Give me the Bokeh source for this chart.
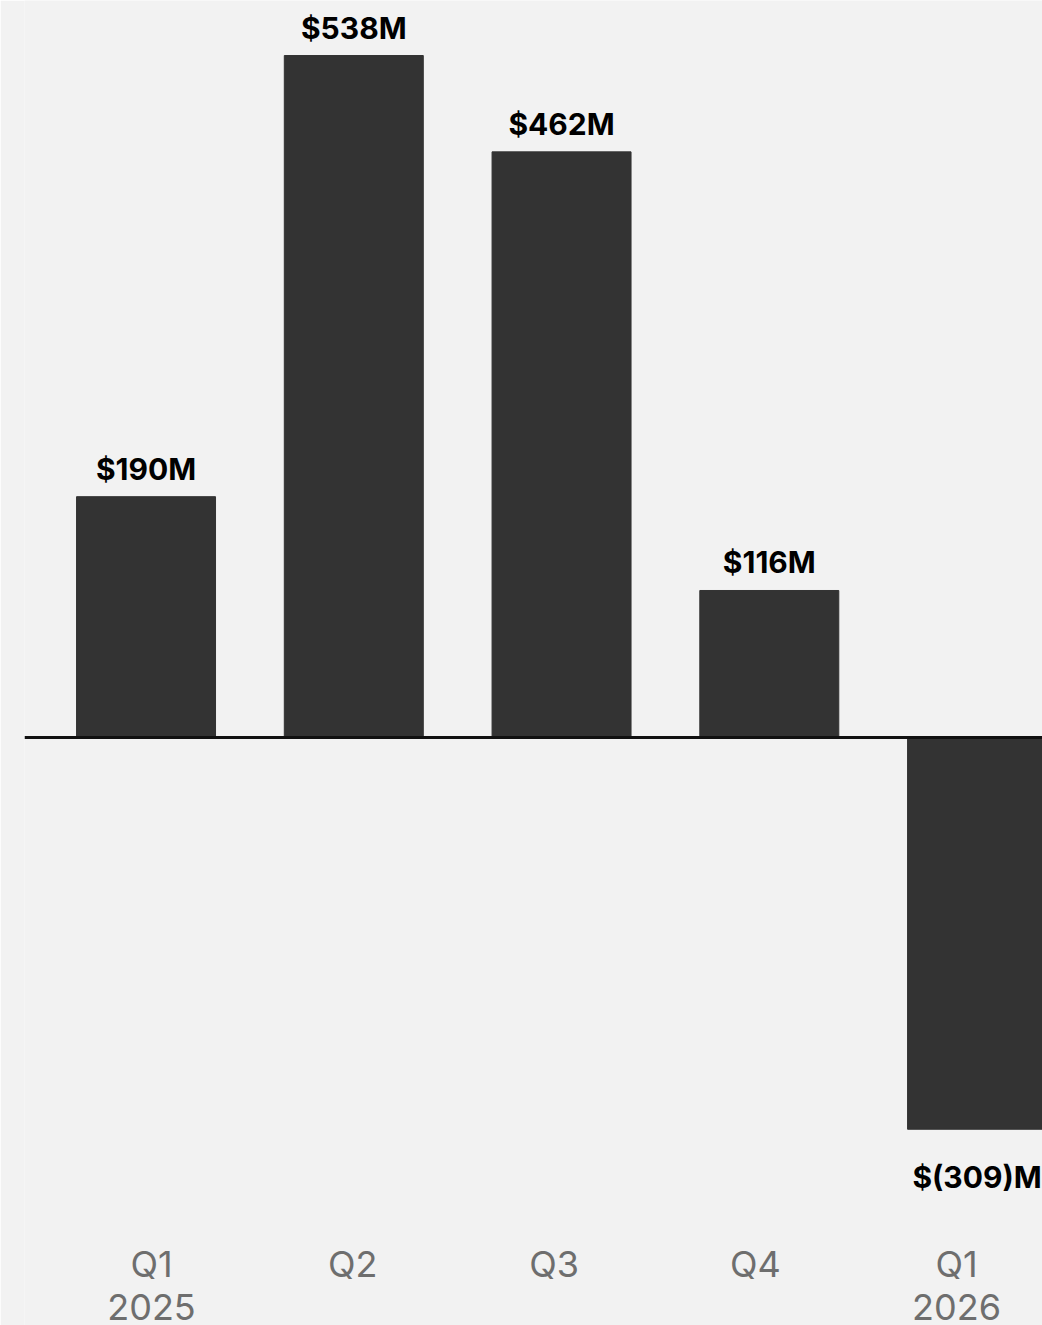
from bokeh.plotting import figure
from bokeh.models import Range1d, ColumnDataSource, Span
from bokeh.core.properties import value
from bokeh.embed import file_html
from bokeh.resources import INLINE

quarters = ["Q1", "Q2", "Q3", "Q4", "Q1"]
years = ["2025", "", "", "", "2026"]
values = [190, 538, 462, 116, -309]
labels = ["$190M", "$538M", "$462M", "$116M", "$(309)M"]

xs = list(range(len(values)))
src = ColumnDataSource(dict(x=xs, top=values))

BG = "#f2f2f2"
YMIN, YMAX = -463.8, 581.4
p = figure(width=1042, height=1325, output_backend="svg", toolbar_location=None,
           x_range=Range1d(-0.585, 4.315), y_range=Range1d(YMIN, YMAX),
           min_border_left=24, min_border_right=0, min_border_top=0, min_border_bottom=0,
           background_fill_color=BG, border_fill_color=BG, outline_line_color=None)
p.xaxis.visible = False
p.yaxis.visible = False
p.grid.visible = False

p.vbar(x="x", top="top", bottom=0, width=0.669, source=src, color="#333333")
p.add_layout(Span(location=0, dimension="width", line_color="#111111", line_width=3))

pos = [i for i, v in enumerate(values) if v >= 0]
neg = [i for i, v in enumerate(values) if v < 0]
psrc = ColumnDataSource(dict(x=[xs[i] for i in pos], y=[values[i] for i in pos], t=[labels[i] for i in pos]))
nsrc = ColumnDataSource(dict(x=[xs[i] for i in neg], y=[values[i] for i in neg], t=[labels[i] for i in neg]))
p.text(x="x", y="y", text="t", source=psrc, text_align="center", text_baseline="alphabetic",
       y_offset=-28, text_font=value("Inter"), text_font_style="bold", text_font_size="30px",
       text_color="#000000")
p.text(x="x", y="y", text="t", source=nsrc, text_align="center", text_baseline="alphabetic",
       y_offset=48, text_font=value("Inter"), text_font_style="bold", text_font_size="30px",
       text_color="#000000")

# category labels along the bottom, on their own x scale
p.extra_x_ranges = {"lab": Range1d(-0.631, 4.427)}
tsrc = ColumnDataSource(dict(x=xs, y=[YMIN] * len(xs), q=quarters, yr=years))
p.text(x="x", y="y", text="q", source=tsrc, x_range_name="lab", text_align="center",
       text_baseline="middle", y_offset=-62, text_font=value("Inter"),
       text_font_size="36px", text_color="#6e6e6e")
p.text(x="x", y="y", text="yr", source=tsrc, x_range_name="lab", text_align="center",
       text_baseline="middle", y_offset=-19, text_font=value("Inter"),
       text_font_size="36px", text_color="#6e6e6e")

open("out.html", "w").write(file_html(p, INLINE))
